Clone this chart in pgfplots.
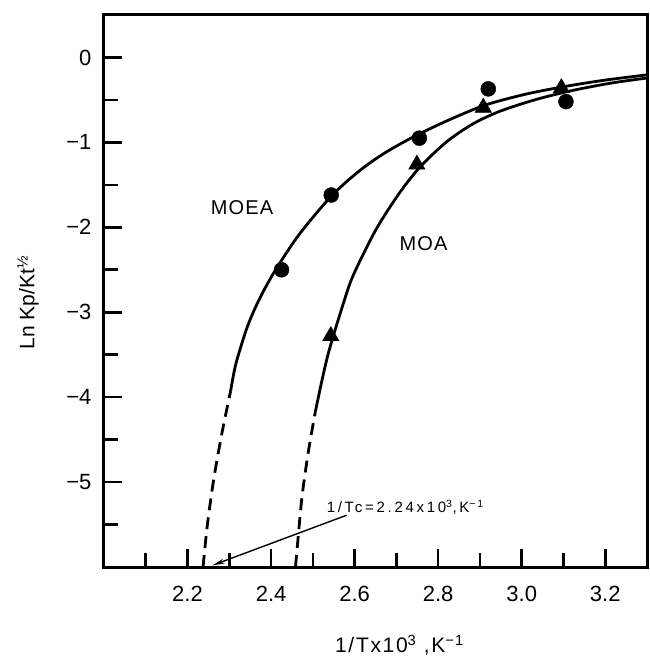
\documentclass[border=0pt]{standalone}
\usepackage{fontspec}
\setmainfont{Liberation Sans}
\newfontfamily\wide[LetterSpace=6]{Liberation Sans}
\newfontfamily\wider[LetterSpace=8]{Liberation Sans}
\newfontfamily\spaced[LetterSpace=18]{Liberation Sans}
\usepackage{pgfplots}
\pgfplotsset{compat=1.18}
\usetikzlibrary{arrows.meta}

\begin{document}
\begin{tikzpicture}
\begin{axis}[
  name=ax, scale only axis, width=543pt, height=552pt,
  xmin=2.0, xmax=3.3, ymin=-6, ymax=0.5,
  axis line style={line width=3pt},
  xtick={2.2,2.4,2.6,2.8,3.0,3.2}, xticklabels={2.2,2.4,2.6,2.8,3.0,3.2},
  minor xtick={2.1,2.3,2.5,2.7,2.9,3.1},
  ytick={-5,-4,-3,-2,-1,0}, yticklabels={−5,−4,−3,−2,−1,0},
  minor ytick={-5.5,-4.5,-3.5,-2.5,-1.5,-0.5},
  xtick pos=left, ytick pos=left, tick align=inside,
  major tick length=18pt, minor tick length=14pt,
  tick style={line width=2.6pt, black},
  xticklabel style={font=\fontsize{22}{26}\selectfont, yshift=-16pt},
  yticklabel style={font=\fontsize{22}{26}\selectfont, xshift=-9pt},
]
% MOEA
\addplot[line width=2.8pt, smooth, dash pattern=on 12pt off 7pt] coordinates {
  (2.2371,-6.0) (2.2476,-5.498) (2.2633,-4.949) (2.2833,-4.40) (2.3031,-3.929)};
\addplot[line width=2.8pt, smooth] coordinates {
  (2.3031,-3.929) (2.3155,-3.612) (2.3398,-3.218) (2.3590,-2.982) (2.3824,-2.746)
  (2.4140,-2.475) (2.4676,-2.082) (2.5433,-1.638) (2.6102,-1.340) (2.6733,-1.121)
  (2.7476,-0.918) (2.8326,-0.721) (2.9138,-0.559) (3.0090,-0.433) (3.1043,-0.341)
  (3.1995,-0.267) (3.3,-0.205)};
% MOA
\addplot[line width=2.8pt, smooth, dash pattern=on 12pt off 7pt] coordinates {
  (2.4586,-6.0) (2.4619,-5.812) (2.4738,-5.185) (2.4895,-4.635) (2.5063,-4.165)};
\addplot[line width=2.8pt, smooth] coordinates {
  (2.5063,-4.165) (2.5362,-3.500) (2.5824,-2.753) (2.6050,-2.476) (2.6533,-2.008)
  (2.7098,-1.579) (2.7598,-1.273) (2.8214,-0.989) (2.8833,-0.782) (2.9481,-0.633)
  (3.0314,-0.499) (3.1148,-0.396) (3.2100,-0.305) (3.3,-0.242)};
% data points
\addplot[only marks, mark=*, mark size=7.5pt, mark options={fill=black}] coordinates {
  (2.425,-2.50) (2.544,-1.62) (2.755,-0.95) (2.92,-0.37) (3.106,-0.52)};
\addplot[only marks, mark=triangle*, mark size=9.5pt, mark options={fill=black}] coordinates {
  (2.543,-3.28) (2.749,-1.26) (2.908,-0.59) (3.095,-0.36)};

\node[font=\wide\fontsize{20}{24}\selectfont] at (axis cs:2.3305,-1.77) {MOEA};
\node[font=\wide\fontsize{20}{24}\selectfont] at (axis cs:2.765,-2.19) {MOA};
\node[font=\spaced\fontsize{15}{18}\selectfont, anchor=west, inner sep=0pt]
  at (axis cs:2.533,-5.30) {1/Tc=2.24x10\textsuperscript{3},K\textsuperscript{−1}};
\draw[line width=1.4pt, -{Stealth[length=12pt,width=5pt]}]
  (axis cs:2.581,-5.39) -- (axis cs:2.26,-5.98);
\end{axis}
\node[rotate=90, font=\fontsize{21}{24}\selectfont]
  at ([shift={(-76pt,264pt)}]ax.south west) {Ln Kp/Kt\raisebox{0.6ex}{\fontsize{15}{15}\selectfont ½}};
\node[font=\wider\fontsize{21}{25}\selectfont]
  at ([shift={(295.5pt,-78pt)}]ax.south west) {1/Tx10\textsuperscript{3} ,K\textsuperscript{−1}};
\pgfresetboundingbox
\path ([shift={(-104pt,-97pt)}]ax.south west) rectangle ++(649pt,664pt);
\end{tikzpicture}
\end{document}
